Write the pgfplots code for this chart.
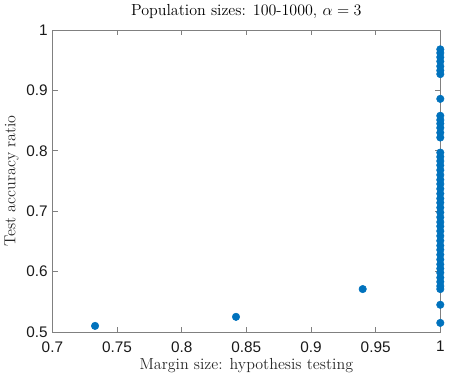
\documentclass[border=0pt]{standalone}
\usepackage{pgfplots}
\pgfplotsset{compat=1.18}
\usepackage{fontspec}
\newfontfamily\ticksans{Liberation Sans}
\definecolor{mblue}{rgb}{0,0.447,0.741}
\definecolor{axgray}{rgb}{0.5,0.5,0.5}
\begin{document}
\begin{tikzpicture}
\begin{axis}[
  scale only axis,
  width=291pt, height=226.5pt,
  xmin=0.7, xmax=1, ymin=0.5, ymax=1,
  xtick={0.7,0.75,...,1.0},
  ytick={0.5,0.6,...,1.0},
  xticklabels={0.7,0.75,0.8,0.85,0.9,0.95,1},
  yticklabels={0.5,0.6,0.7,0.8,0.9,1},
  tick align=inside,
  major tick length=4pt,
  axis line style={axgray, line width=0.5pt},
  every tick/.style={axgray, line width=0.5pt},
  ticklabel style={font=\ticksans\fontsize{11.5}{13}\selectfont, text=black!90},
  xticklabel style={yshift=-3.5pt},
  /pgf/number format/assume math mode=true,
  title={Population sizes: 100-1000, $\alpha = 3$},
  title style={font=\fontsize{12}{14}\selectfont, yshift=-1pt},
  xlabel={Margin size: hypothesis testing},
  ylabel={Test accuracy ratio},
  label style={font=\fontsize{12}{14}\selectfont, text=black!85},
  xlabel style={yshift=2.5pt},
  ylabel style={yshift=-1pt},
  clip=false,
]
\addplot[only marks, mark=*, mark size=2.8pt, mblue, mark options={draw=mblue, fill=mblue}]
coordinates {
 (0.733,0.510) (0.842,0.525) (0.940,0.571)
 (1,0.968) (1,0.962) (1,0.955) (1,0.948) (1,0.940) (1,0.933) (1,0.927)
 (1,0.886)
 (1,0.858) (1,0.851) (1,0.845) (1,0.838) (1,0.830) (1,0.822)
 (1,0.797) (1,0.790) (1,0.783) (1,0.776) (1,0.768) (1,0.760) (1,0.752)
 (1,0.745) (1,0.737) (1,0.729) (1,0.721) (1,0.714) (1,0.706) (1,0.698)
 (1,0.690) (1,0.682) (1,0.675) (1,0.667) (1,0.659) (1,0.651) (1,0.643)
 (1,0.636) (1,0.628) (1,0.620) (1,0.612) (1,0.605) (1,0.598) (1,0.590)
 (1,0.583) (1,0.576) (1,0.571)
 (1,0.545) (1,0.515)
};
\end{axis}
\end{tikzpicture}
\end{document}
